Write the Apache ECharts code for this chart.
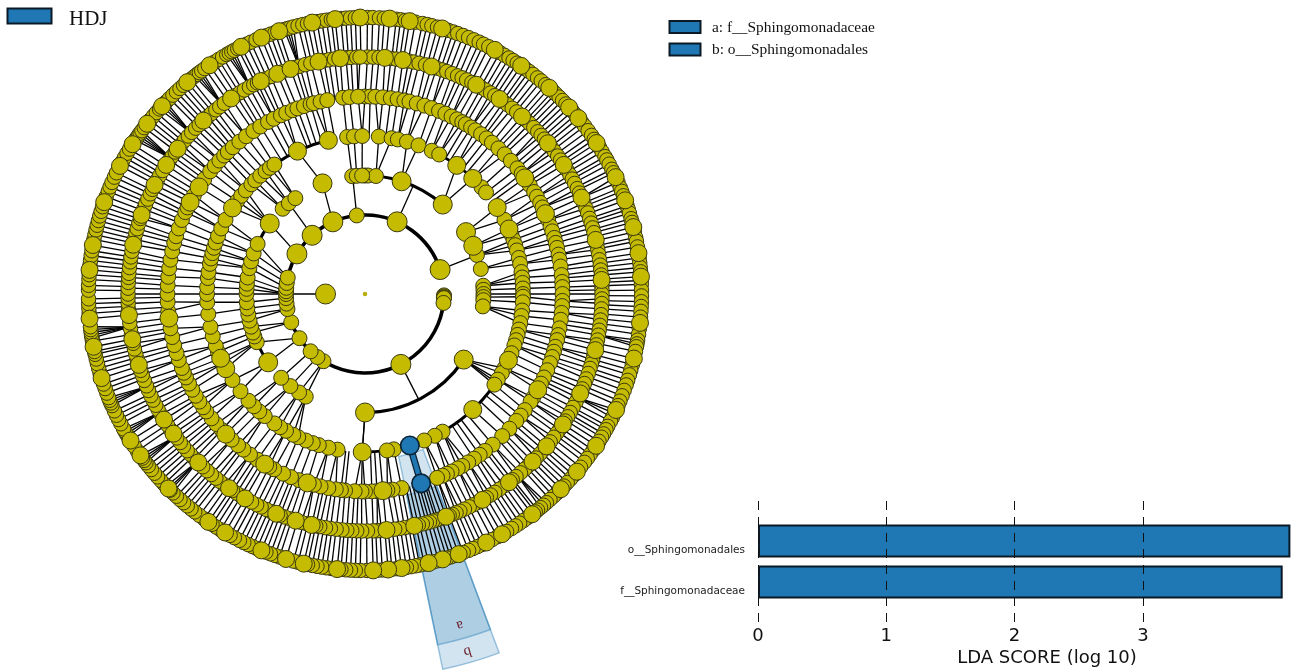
<!DOCTYPE html>
<html><head><meta charset="utf-8">
<style>html,body{margin:0;padding:0;background:#fff}#c{width:1292px;height:671px}</style>
<script src="https://cdn.jsdelivr.net/npm/echarts@6/dist/echarts.min.js"></script>
</head><body><div id="c"></div>
<script>
// Bar chart data
const categories = ['f__Sphingomonadaceae', 'o__Sphingomonadales'];
const ldaScores = [4.09, 4.15];
const tickValues = [0, 1, 2, 3];
// Cladogram: angle of every node on each ring, degrees clockwise from 12 o'clock
const ring1 = [270];
const ring2 = [24,72,91,91.8,92.5,93,96.5,153,211.7,217,223.5,236,249,259,263,267,270,272,274.5,278,282,300.5,318,336,354];
const ring3 = [0,1.5,5.3,18,41,58.5,66,70.8,77.8,86,88,90,91.5,93,96,123.6,180,210,213.8,219,225,234.8,246,249,251,254,257,260,263,266,270,272.5,275,278,282.6,286,290,295,306.5,316,320,324,339,353.8,356,358.6];
const ring4 = [5,9.7,12,15.4,19.8,25,28,35.5,43,47.5,50,56.8,62,65.7,68,70,72,74,76.8,79,82,84,86,88,90,91,93,96,98,100.6,103,105,107,109,112,114.8,118,120,122.8,125,137,150.6,153.8,158,169.5,172,181,190,193.4,197,199.3,202,205,207,210,212.5,215,219.4,222,224.7,227.5,232,237,241.8,244,246,248.5,250.8,254.5,258,262.7,267,270,272.5,275.8,278,281,283,285,287,289,291.5,294.5,298,303,306,308.4,311,314,316,318.5,321,323,325,334.7,346.6,353.5,356,359];
const ring5 = [0,1.5,3,5.2,7.5,9.5,11.5,13,15.2,17.5,19.7,22,24,26,27.8,29.5,30.7,32.5,34,36,38,40,42.5,45,47.6,50.5,52.5,54,56.5,58.9,60.5,62.5,64,66,68,70,71.5,73.5,75,76.5,78.5,80,82,84.5,86.5,88,90,92,93.5,95.5,97.5,100,102,103.5,105.5,107,108.6,110.5,112.7,115,117,119,121.7,123,126,128,130,133,136,139.7,142.6,144.5,146.5,148.5,150.5,152,154,155.5,156.9,158.6,169.3,172,173.5,174.8,176.5,178,180,181,183,185.8,187,188.5,190.7,193,195,197,199.5,202,204.5,207.4,209,210.5,213,215.6,218,220,222.5,224.8,226.5,228.8,231,233.5,235,237,239,241,243,245,246.5,248,250.5,252.6,255,257.4,260,263,265,267.7,270,272.5,275,277.5,280,282.5,285,287,289.4,292,294.5,296,297.7,300,302.8,305.5,308.4,310.5,312.5,314.5,316,318,320.5,323,325.6,328,330.6,332.5,334.8,336.5,338.5,340,342,344,345,347,349,353.6,355.5,358];
const ring6 = [0.6,2,3.4,4.8,6.3,7.6,9.2,10.6,11.8,13.2,14.8,16.3,17.6,19,20.2,21.6,23,24.2,25.4,26.8,28,29.4,30.6,32,33.2,34.6,35.8,37,38.4,39.8,41.5,42.8,44,45.4,46.8,48,49.2,50.5,51.8,53,54.4,55.6,57,58.4,59.8,61,62.2,63.6,64.8,66,67.4,68.8,70,71.4,72.6,73.8,75,76.8,78,79.2,80.4,81.7,83,84.2,85.4,86.6,88,89,90,91.2,92.3,93.6,95,96.3,97.6,98.8,100,101.2,102.4,103.7,105,106.2,107.2,108.3,109.6,111,112.2,113.6,114.8,116,117.2,118.6,120,121.2,122.4,123.4,124.8,126,127.2,128.6,130,131.2,132.4,133.8,135,136.4,137.6,139,140.4,141.6,142.6,144,145.4,146.8,148,149.2,150.3,151.6,152.8,153.9,155.2,156.4,157.4,158.4,159.2,160,161,162,162.6,163.4,164.2,165,166,167,168,169.2,170.4,171.6,172.8,174.8,176,177,178,179.4,180.8,182,183.2,184.4,185.6,187,188.4,189.6,191,192,193,194.2,195.6,197,198.4,199.8,201,202,203.4,204.6,206,207.2,208.6,210.4,211.6,212.8,214,215,216.4,217.8,219,220.4,221.8,223.2,224.7,226,227.4,228.6,230,231.2,232.6,233.9,235,236.4,238,239.4,240.8,242,243.4,244.6,246,247.2,248.6,250,251.2,252.6,254,255.2,256.6,258,259,260.2,261.6,263,264.9,266.2,267.7,269,270,271.4,272.8,274,275,276.4,277.8,279,280.4,282,283.4,284.8,286,287.4,288.6,289.5,291,292.2,293.6,295,296.2,297.4,298.8,300,301.4,303,304.4,305.6,306.8,307.8,309.2,310.4,311.8,313,314.4,315.6,317,318.4,319.6,321,322.2,323.6,325.6,327,328.2,329.4,330.8,332,333,333.9,335.2,336.6,338.3,339.6,341.7,343,344,345.4,346.8,348.7,350,351.2,352.6,354,355.4,356.6,358,358.8];
const ring7 = [0.5,1.6,3,4,5.1,6.5,7.4,8.4,9.3,10.5,12,13,14,15.2,16.2,17.5,18.6,19.6,20.8,22,23.2,24.4,25.4,26.6,28,29.2,30.3,31.4,32.4,33.4,34.4,35.5,36.4,37.4,38.6,39.6,40.8,41.8,42.8,43.6,44.6,45.6,46.6,47.6,48.6,49.6,50.5,51.6,52.6,53.8,55,56,56.9,58,59,60.2,61,62,63.2,64,65,66.2,67.4,68.2,69.2,70.2,71.4,72.2,73,74.2,75,76,77,78.2,79,80.2,81.5,82.5,83.5,84.5,85.4,86.4,87.2,88,89.2,90.4,91.6,92.6,93.6,94.8,96,97.2,98.4,99.6,100.4,101,102,103.5,104.8,106,107,108.2,109.2,110.4,111.6,112.8,113.8,114.8,115.6,116.6,117.4,118.6,119.4,120.4,121.2,122.2,123.3,124.4,125.5,126.5,127.5,128.8,130,131,132,133,134,134.9,136,137,138,139,139.8,140.6,141.4,142,142.8,144,145,146,147,148,149.2,150.3,151.4,152.6,154,155,156,157,158,159.2,160.2,161.2,162,162.8,163.7,164.6,165.6,166.7,167.6,168.6,169.4,170.4,171.4,172.4,173.4,174.4,175.2,176.4,177.4,178.3,179.6,181,182,183,184,185,185.8,187,188,189,190,191,192,192.8,194,195,196.6,198,199,200,201,202,203,204,205,206,207,208.2,209.2,210.4,211.5,212.6,213.6,214.5,215.6,216.8,218,219,220,221,222,223,224,224.8,225.3,226,226.6,227.6,228.6,229.6,230.6,231.6,232.4,233,233.6,234.3,235.4,236.6,238,239,239.6,240.2,240.8,242,243,244,245,246.2,246.8,247.4,248,249,250,251,252.3,253.4,254.4,255.4,256.4,257.4,258,259,260.2,260.8,261.4,262,262.6,263.2,264.9,266,267,268,269,270.8,271.8,273,274,275,276,277,278,279,280.2,281.4,282.4,283.4,284.4,285.4,286.4,287.4,288.4,289.4,290.6,291.8,292.8,293.8,295,296,297.6,298.6,299.6,300.6,301.6,302.8,303.8,304.4,305,305.6,306.2,307,308,309,310,311,312,312.8,313.4,314,315,316,317,318,319,320,321,322,322.6,323.2,323.8,324.6,325.8,327,328,329,330,330.6,331.2,331.8,332.6,333.4,334.6,335.6,336.8,338,339,340,341,341.9,343,343.6,344.2,345,346,347,348,349,350,351,352,353,353.8,355,356,357,358,359];
// Nodes on each ring drawn larger than the rest
const ring2Big = [24,72,153,300.5,336,318];
const ring3Big = [18,41,58.5,66,123.6,180,234.8,306.5,339];
const ring4Big = [35.5,43,56.8,65.7,114.8,137,181,241.8,246,303,334.7,346.6];
const ring5Big = [54,66,119,174.8,197,210.5,224.8,263,297.7,302.8];
const ring6Big = [16.3,28,34.6,41.5,50.5,57,66,76.8,86.6,103.7,114.8,123.4,130,135,142.6,150.3,160,168,174.8,193,197,202,210.4,215,224.7,233.9,238,252.6,259,264.9,282,289.5,297.4,303,307.8,317,325.6,333.9,338.3,341.7,348.7,354,4.8,9.2];
const ring7Big = [5.1,9.3,16.2,28,34.4,41.8,47.6,50.5,56.9,65,70.2,76,81.5,86.4,96,103.5,114.8,123.3,130,134.9,142.8,150.3,154,160.2,163.7,166.7,172.4,175.2,178.3,185.8,192.8,196.6,202,210.4,214.5,225.3,234.3,238,252.3,259,264.9,275,280.2,289.4,297.6,302.8,308,312.8,320,325.8,333.4,338,341.9,349,353.8,359];
// Highlighted clade: node angle, ring levels
const blueAngle = 163.5;
const blueLevels = [4, 5];
// Ring 2 to ring 3 stems: [parent angle, child angle]
const stems23 = [[354,354],[24,24],[336,339],[318,320],[300.5,306.5],[282,295],[282,290],[278,286],[274.5,282.6],[272,278],[270,275],[270,272.5],[270,270],[267,266],[263,263],[259,260],[259,257],[249,254],[249,251],[236,246],[236,234.8],[223.5,225],[217,219],[211.7,213.8],[211.7,210],[72,70.8]];
// Other single stems: [inner level, inner angle, outer level, outer angle]
const extraStems = [[1,270,2,270],[2,153,3,153],[3,123.6,4,124],[3,180,4,181]];
// Arcs along a ring: [level, from angle, to angle, stroke]
const arcs = [[2,91,432,3.6],[3,353.8,401,3.2],[3,295,306.5,3],[3,234.8,246,3],[3,124,180,3.2],[4,125,181,3],[4,325,346.6,3],[4,28,43,2.6],[5,349,353.6,1.5]];
// Angles on ring 6 where several ring 7 stems converge
const fanApex = [66,100,116,140,225,233,240,247,262,305,312.8,323,331,343.8];
// Sectors: [label, inner level, outer level, from angle, to angle, label level]
const wedges = [['b',4.2,9.7,159.5,168.3,9.42],['a',5.2,9.07,159.5,168.3,8.72]];

const rings = [null, ring1, ring2, ring3, ring4, ring5, ring6, ring7];
const bigs  = [null, [], ring2Big, ring3Big, ring4Big, ring5Big, ring6Big, ring7Big];
const baseSize = [0, 20, 15, 15, 15, 15, 14.5, 14.5];
const bigSize  = [0, 20, 20, 19, 18, 18, 17, 17];
const YELLOW = '#c5bb00', EDGE = '#3a3a10', BLUE = '#1f77b4';

function nearest(list, a) {
  let best = null, d = 1e9;
  list.forEach(b => { const x = Math.abs(((a - b + 540) % 360) - 180); if (x < d) { d = x; best = b; } });
  return [best, d];
}
const links = [];
extraStems.forEach(s => links.push(s));
stems23.forEach(s => links.push([2, s[0], 3, s[1]]));
ring4.forEach(a => { const [p, d] = nearest(ring3, a); if (d < 6) links.push([3, p, 4, a]); });
ring5.forEach(a => { const [p, d] = nearest(ring4, a); links.push([4, d < 2.2 ? p : a, 5, a]); });
ring6.forEach(a => { const [p, d] = nearest(ring5, a); links.push([5, d < 0.8 ? p : a, 6, a]); });
ring7.forEach(a => {
  const [f, df] = nearest(fanApex, a);
  if (df < 1.3) { links.push([6, f, 7, a]); return; }
  links.push([6, a, 7, a]);
});

const rad = d => (d - 90) * Math.PI / 180;
const series = [];
series.push({
  type: 'custom', coordinateSystem: 'polar', polarIndex: 0, silent: true, z: 1, clip: false,
  data: wedges.map(w => [w[1], w[3], w[2], w[4], w[5]]),
  renderItem(params, api) {
    const cs = params.coordSys, w = wedges[params.dataIndex];
    const unit = (cs.r) / 10;
    const lab = api.coord([w[5], (w[3] + w[4]) / 2 + 0.1]);
    return { type: 'group', children: [
      { type: 'sector', shape: { cx: cs.cx, cy: cs.cy, r0: w[1] * unit, r: w[2] * unit, startAngle: rad(w[3]), endAngle: rad(w[4]), clockwise: true },
        style: { fill: 'rgba(31,119,180,0.2)', stroke: 'rgba(31,119,180,0.4)', lineWidth: 1.5 } },
      { type: 'text', x: lab[0], y: lab[1], rotation: -164 * Math.PI / 180,
        style: { text: w[0], font: '15px "Liberation Serif"', fill: '#6a1f2a', align: 'center', verticalAlign: 'middle' } }
    ] };
  }
});
series.push({
  type: 'custom', coordinateSystem: 'polar', polarIndex: 0, silent: true, z: 2, clip: false,
  data: links,
  renderItem(params, api) {
    const p = api.coord([api.value(0), api.value(1)]), q = api.coord([api.value(2), api.value(3)]);
    return { type: 'line', shape: { x1: p[0], y1: p[1], x2: q[0], y2: q[1] }, style: { stroke: '#000', lineWidth: 1.3 } };
  }
});
series.push({
  type: 'custom', coordinateSystem: 'polar', polarIndex: 0, silent: true, z: 3, clip: false,
  data: arcs,
  renderItem(params, api) {
    const cs = params.coordSys;
    return { type: 'arc', shape: { cx: cs.cx, cy: cs.cy, r: api.value(0) * cs.r / 10, startAngle: rad(api.value(1)), endAngle: rad(api.value(2)), clockwise: true },
      style: { fill: 'none', stroke: '#000', lineWidth: api.value(3) } };
  }
});
for (let k = 7; k >= 1; k--) {
  series.push({ type: 'scatter', coordinateSystem: 'polar', polarIndex: 0, silent: true, z: 4, symbolSize: baseSize[k], clip: false,
    data: rings[k].map(a => [k, a]), itemStyle: { color: YELLOW, borderColor: EDGE, borderWidth: 1, opacity: 1 } });
  if (bigs[k].length) series.push({ type: 'scatter', coordinateSystem: 'polar', polarIndex: 0, silent: true, z: 5, symbolSize: bigSize[k], clip: false,
    data: bigs[k].map(a => [k, a]), itemStyle: { color: YELLOW, borderColor: EDGE, borderWidth: 1, opacity: 1 } });
}
series.push({ type: 'scatter', coordinateSystem: 'polar', polarIndex: 0, silent: true, z: 5, symbolSize: 4.5, clip: false,
  data: [[0, 0]], itemStyle: { color: '#b8ae10', opacity: 1 } });
series.push({ type: 'line', coordinateSystem: 'polar', polarIndex: 0, silent: true, z: 6, symbol: 'none', clip: false,
  data: blueLevels.map(l => [l, blueAngle]), lineStyle: { color: '#0b2233', width: 7 } });
series.push({ type: 'line', coordinateSystem: 'polar', polarIndex: 0, silent: true, z: 6, symbol: 'none', clip: false,
  data: blueLevels.map(l => [l, blueAngle]), lineStyle: { color: BLUE, width: 4.5 } });
series.push({ type: 'scatter', coordinateSystem: 'polar', polarIndex: 0, silent: true, z: 7, symbolSize: 18.5, clip: false,
  data: blueLevels.map(l => [l, blueAngle]), itemStyle: { color: BLUE, borderColor: '#0b2233', borderWidth: 1.6, opacity: 1 } });
// Bars
series.push({ type: 'bar', xAxisIndex: 0, yAxisIndex: 0, data: ldaScores, barWidth: 33, silent: true, z: 2,
  itemStyle: { color: BLUE, borderColor: '#0b1a26', borderWidth: 2 } });
// Dashed reference lines at the ticks, over the bars
series.push({ type: 'scatter', xAxisIndex: 1, yAxisIndex: 1, data: [], silent: true, z: 6,
  markLine: { silent: true, symbol: 'none', animation: false, label: { show: false }, z: 6,
    lineStyle: { color: '#111', type: [9, 7], width: 1 }, data: tickValues.map(v => ({ xAxis: v })) } });

const chart = echarts.init(document.getElementById('c'), null, { renderer: 'canvas' });
const legendRow = (x, y, w, h, lw, text, tx, ty, font) => [
  { type: 'rect', shape: { x, y, width: w, height: h }, style: { fill: BLUE, stroke: '#0b1a26', lineWidth: lw } },
  { type: 'text', x: tx, y: ty, style: { text, font, fill: '#111', verticalAlign: 'middle' } }
];
chart.setOption({
  animation: false,
  backgroundColor: '#fff',
  polar: { center: [365, 294], radius: 395 },
  radiusAxis: { show: false, min: 0, max: 10, axisLine: { show: false }, splitLine: { show: false } },
  angleAxis: { show: false, min: 0, max: 360, startAngle: 90, clockwise: true, splitLine: { show: false } },
  grid: [
    { left: 758, top: 520.5, width: 532.4, height: 82 },
    { left: 758, top: 500, width: 532.4, height: 122 }
  ],
  xAxis: [
    { type: 'value', gridIndex: 0, min: 0, max: 4.15, show: false },
    { type: 'value', gridIndex: 1, min: 0, max: 4.15, interval: 1,
      axisLine: { show: false }, axisTick: { show: false }, splitLine: { show: false },
      axisLabel: { customValues: tickValues, margin: 5, color: '#111', fontSize: 18, fontFamily: 'DejaVu Sans', formatter: v => String(v) } }
  ],
  yAxis: [
    { type: 'category', gridIndex: 0, data: categories, axisLine: { show: false }, axisTick: { show: false }, splitLine: { show: false },
      axisLabel: { margin: 13, color: '#222', fontSize: 10.5, fontFamily: 'DejaVu Sans', verticalAlign: 'top', lineHeight: 18 } },
    { type: 'value', gridIndex: 1, min: 0, max: 1, show: false }
  ],
  graphic: { elements: [
    ...legendRow(7.5, 8.5, 44, 15, 2, 'HDJ', 69, 19, '21px "Liberation Serif"'),
    ...legendRow(669.5, 21, 31, 12, 2, 'a: f__Sphingomonadaceae', 712, 28, '15.4px "Liberation Serif"'),
    ...legendRow(669.5, 43.5, 31, 12, 2, 'b: o__Sphingomonadales', 712, 50, '15.4px "Liberation Serif"'),
    { type: 'text', x: 1047, y: 658, style: { text: 'LDA SCORE (log 10)', font: '18px "DejaVu Sans"', fill: '#111', align: 'center', verticalAlign: 'middle' } }
  ] },
  series
});
</script></body></html>
